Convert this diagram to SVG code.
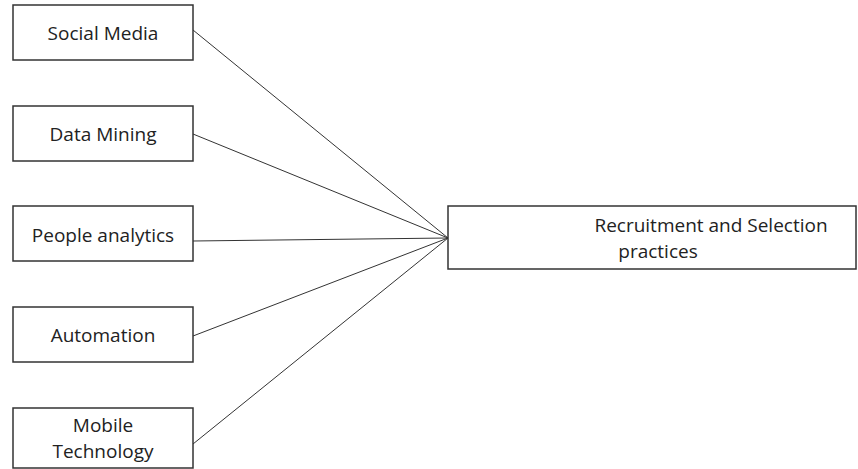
<svg xmlns="http://www.w3.org/2000/svg" width="858" height="469" viewBox="0 0 858 469">
<style>
.box{fill:#fff;stroke:#333;stroke-width:1.5}
.t{font-family:"Open Sans","Liberation Sans",sans-serif;font-size:19px;fill:#222;text-anchor:middle}
.c{stroke:#333;stroke-width:1;fill:none}
</style>
<rect width="858" height="469" fill="#fff"/>
<g id="connectors">
<line class="c" x1="193" y1="30" x2="448" y2="238"/>
<line class="c" x1="193" y1="134" x2="448" y2="238"/>
<line class="c" x1="193" y1="241" x2="448" y2="238"/>
<line class="c" x1="193" y1="336" x2="448" y2="238"/>
<line class="c" x1="193" y1="444" x2="448" y2="238"/>
</g>
<g id="social"><rect class="box" x="13" y="5" width="180" height="55"/><text class="t" x="103" y="40">Social Media</text></g>
<g id="datamining"><rect class="box" x="13" y="106" width="180" height="55"/><text class="t" x="103" y="141">Data Mining</text></g>
<g id="people"><rect class="box" x="13" y="206" width="180" height="55"/><text class="t" x="103" y="242">People analytics</text></g>
<g id="automation"><rect class="box" x="13" y="307" width="180" height="55"/><text class="t" x="103" y="342">Automation</text></g>
<g id="mobile"><rect class="box" x="13" y="408" width="180" height="60"/><text class="t" x="103" y="432">Mobile</text><text class="t" x="103" y="458">Technology</text></g>
<g id="recruitment"><rect class="box" x="448" y="206" width="408" height="63"/><text class="t" x="711" y="232">Recruitment and Selection</text><text class="t" x="658" y="258">practices</text></g>
</svg>
